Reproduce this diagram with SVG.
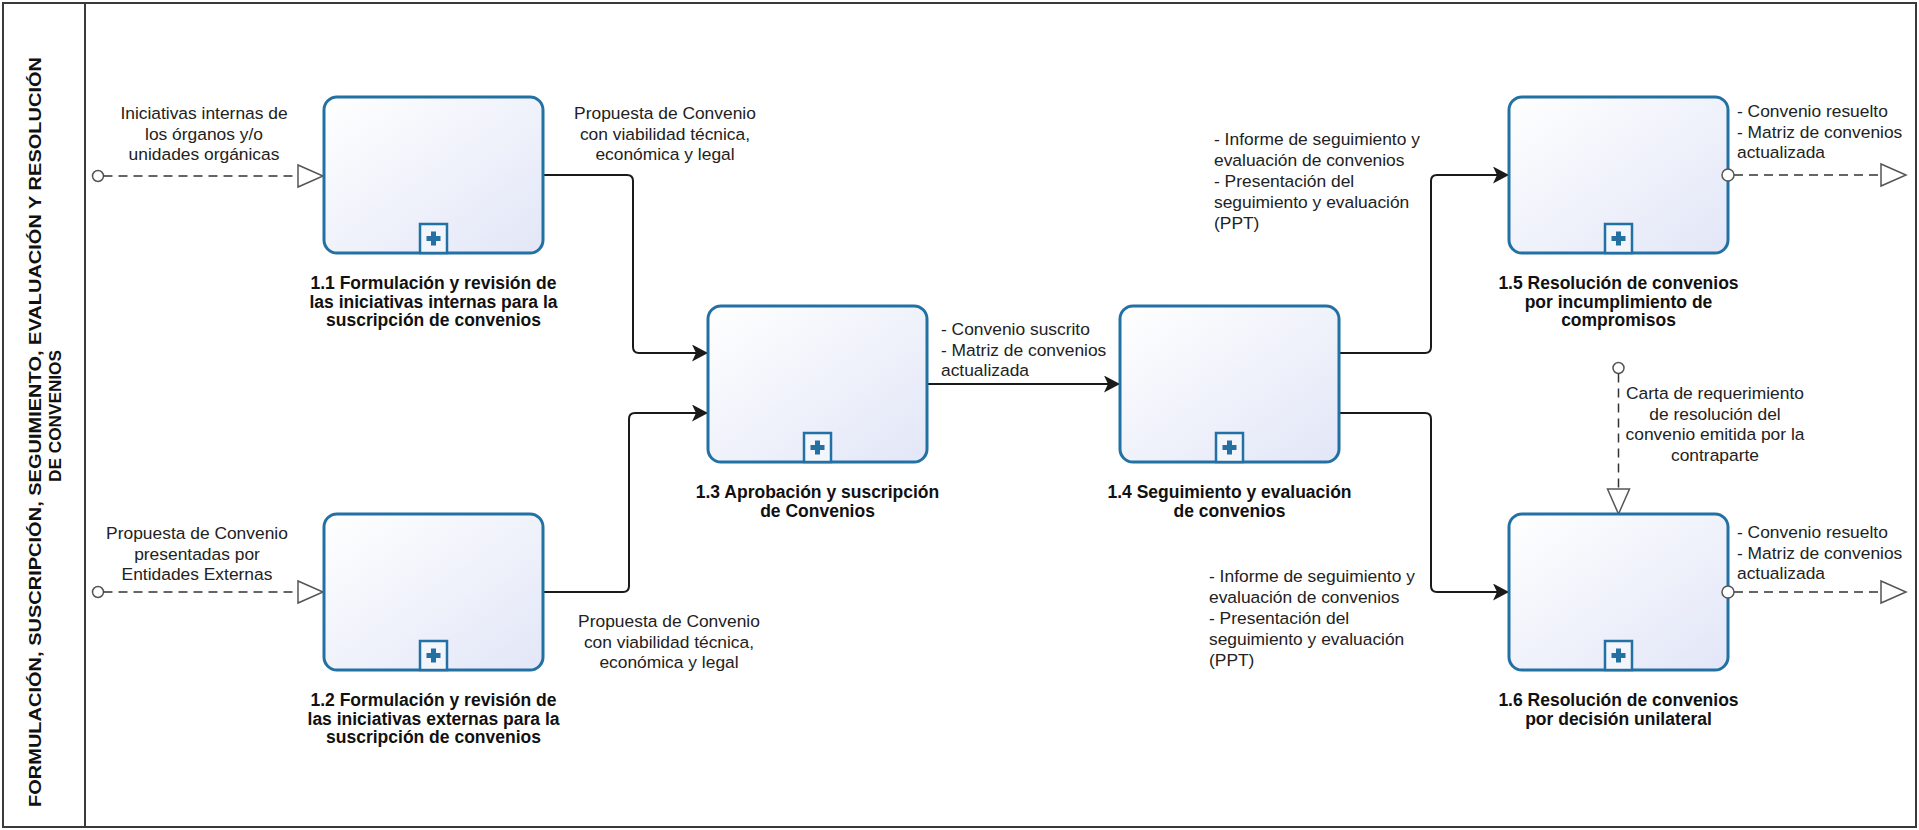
<svg xmlns="http://www.w3.org/2000/svg" width="1919" height="830" viewBox="0 0 1919 830">
  <style>
    .frame{fill:#fff;stroke:#3a3a3a;stroke-width:2}
    .task{fill:url(#taskFill);stroke:#2371a3;stroke-width:3}
    .sub{fill:#f3f5fc;stroke:#2371a3;stroke-width:2.5}
    .plus{fill:#2371a3}
    .seq{fill:none;stroke:#1a1a1a;stroke-width:2;marker-end:url(#arrow)}
    .msg{fill:none;stroke:#333;stroke-width:1.5;stroke-dasharray:9 6}
    .src{fill:#fff;stroke:#555;stroke-width:1.5}
    .tri{fill:#fff;stroke:#555;stroke-width:1.5}
    .lbl{font-family:"Liberation Sans",Arial,sans-serif;font-size:17.4px;fill:#222}
    .name{font-family:"Liberation Sans",Arial,sans-serif;font-size:17.5px;font-weight:bold;fill:#111;text-anchor:middle}
    .title{font-family:"Liberation Sans",Arial,sans-serif;font-size:17px;font-weight:bold;fill:#111;text-anchor:middle}
    .mid{text-anchor:middle}
  </style>
  <defs>
    <linearGradient id="taskFill" x1="0" y1="0" x2="1" y2="1">
      <stop offset="0" stop-color="#ffffff"/>
      <stop offset="1" stop-color="#e2e6f7"/>
    </linearGradient>
    <marker id="arrow" markerUnits="userSpaceOnUse" markerWidth="17" markerHeight="18" refX="16" refY="8.5" orient="auto">
      <path d="M0,0 L16,8.5 L0,17 L4,8.5 z" fill="#1a1a1a"/>
    </marker>
    <!-- collapsed sub-process: rounded body plus the [+] marker -->
    <g id="subprocess">
      <rect class="task" x="0" y="0" width="219" height="156" rx="13"/>
      <rect class="sub" x="96" y="127" width="27" height="29"/>
      <rect class="plus" x="102.5" y="139" width="14" height="5"/>
      <rect class="plus" x="107" y="134.5" width="5" height="14"/>
    </g>
  </defs>

  <!-- pool frame and lane header -->
  <g id="pool">
    <rect class="frame" x="3" y="3" width="1913" height="824"/>
    <line x1="85" y1="3" x2="85" y2="827" stroke="#3a3a3a" stroke-width="2"/>
    <text class="title" transform="translate(41,432) rotate(-90)" textLength="750" lengthAdjust="spacingAndGlyphs">FORMULACIÓN, SUSCRIPCIÓN, SEGUIMIENTO, EVALUACIÓN Y RESOLUCIÓN</text>
    <text class="title" transform="translate(61,416) rotate(-90)" textLength="132" lengthAdjust="spacingAndGlyphs">DE CONVENIOS</text>
  </g>

  <!-- sequence and message flows -->
  <g id="connectors">
    <path class="seq" d="M543,175 H627 Q633,175 633,181 V347 Q633,353 639,353 H708"/>
    <path class="seq" d="M543,592 H623 Q629,592 629,586 V419 Q629,413 635,413 H708"/>
    <path class="seq" d="M927,384 H1120"/>
    <path class="seq" d="M1339,353 H1425 Q1431,353 1431,347 V181 Q1431,175 1437,175 H1509"/>
    <path class="seq" d="M1339,413 H1425 Q1431,413 1431,419 V586 Q1431,592 1437,592 H1509"/>

    <circle class="src" cx="98" cy="176" r="5.5"/>
    <path class="msg" d="M103.5,176 H298"/>
    <path class="tri" d="M298,165 L323,176 L298,187 z"/>

    <circle class="src" cx="98" cy="592" r="5.5"/>
    <path class="msg" d="M103.5,592 H298"/>
    <path class="tri" d="M298,581 L323,592 L298,603 z"/>

    <path class="msg" d="M1734,175 H1881"/>
    <path class="tri" d="M1881,164 L1906,175 L1881,186 z"/>

    <path class="msg" d="M1734,592 H1881"/>
    <path class="tri" d="M1881,581 L1906,592 L1881,603 z"/>

    <circle class="src" cx="1618.5" cy="368" r="5.5"/>
    <path class="msg" d="M1618.5,373.5 V489"/>
    <path class="tri" d="M1607.5,489 L1618.5,514 L1629.5,489 z"/>

    <!-- flow labels -->
    <text class="lbl mid"><tspan x="204" y="119">Iniciativas internas de</tspan><tspan x="204" y="139.5">los órganos y/o</tspan><tspan x="204" y="160">unidades orgánicas</tspan></text>
    <text class="lbl mid"><tspan x="197" y="539">Propuesta de Convenio</tspan><tspan x="197" y="559.5">presentadas por</tspan><tspan x="197" y="580">Entidades Externas</tspan></text>
    <text class="lbl mid"><tspan x="665" y="119">Propuesta de Convenio</tspan><tspan x="665" y="139.5">con viabilidad técnica,</tspan><tspan x="665" y="160">económica y legal</tspan></text>
    <text class="lbl mid"><tspan x="669" y="627">Propuesta de Convenio</tspan><tspan x="669" y="647.5">con viabilidad técnica,</tspan><tspan x="669" y="668">económica y legal</tspan></text>
    <text class="lbl"><tspan x="941" y="335">- Convenio suscrito</tspan><tspan x="941" y="355.5">- Matriz de convenios</tspan><tspan x="941" y="376">actualizada</tspan></text>
    <text class="lbl"><tspan x="1214" y="145">- Informe de seguimiento y</tspan><tspan x="1214" y="166">evaluación de convenios</tspan><tspan x="1214" y="187">- Presentación del</tspan><tspan x="1214" y="208">seguimiento y evaluación</tspan><tspan x="1214" y="229">(PPT)</tspan></text>
    <text class="lbl"><tspan x="1209" y="582">- Informe de seguimiento y</tspan><tspan x="1209" y="603">evaluación de convenios</tspan><tspan x="1209" y="624">- Presentación del</tspan><tspan x="1209" y="645">seguimiento y evaluación</tspan><tspan x="1209" y="666">(PPT)</tspan></text>
    <text class="lbl"><tspan x="1737" y="117">- Convenio resuelto</tspan><tspan x="1737" y="137.5">- Matriz de convenios</tspan><tspan x="1737" y="158">actualizada</tspan></text>
    <text class="lbl"><tspan x="1737" y="538">- Convenio resuelto</tspan><tspan x="1737" y="558.5">- Matriz de convenios</tspan><tspan x="1737" y="579">actualizada</tspan></text>
    <text class="lbl mid"><tspan x="1715" y="399">Carta de requerimiento</tspan><tspan x="1715" y="419.5">de resolución del</tspan><tspan x="1715" y="440">convenio emitida por la</tspan><tspan x="1715" y="460.5">contraparte</tspan></text>
  </g>

  <!-- sub-process nodes -->
  <g id="task-1-1">
    <use href="#subprocess" x="324" y="97"/>
    <text class="name"><tspan x="433.5" y="289">1.1 Formulación y revisión de</tspan><tspan x="433.5" y="307.5">las iniciativas internas para la</tspan><tspan x="433.5" y="326">suscripción de convenios</tspan></text>
  </g>
  <g id="task-1-2">
    <use href="#subprocess" x="324" y="514"/>
    <text class="name"><tspan x="433.5" y="706">1.2 Formulación y revisión de</tspan><tspan x="433.5" y="724.5">las iniciativas externas para la</tspan><tspan x="433.5" y="743">suscripción de convenios</tspan></text>
  </g>
  <g id="task-1-3">
    <use href="#subprocess" x="708" y="306"/>
    <text class="name"><tspan x="817.5" y="498">1.3 Aprobación y suscripción</tspan><tspan x="817.5" y="516.5">de Convenios</tspan></text>
  </g>
  <g id="task-1-4">
    <use href="#subprocess" x="1120" y="306"/>
    <text class="name"><tspan x="1229.5" y="498">1.4 Seguimiento y evaluación</tspan><tspan x="1229.5" y="516.5">de convenios</tspan></text>
  </g>
  <g id="task-1-5">
    <use href="#subprocess" x="1509" y="97"/>
    <circle class="src" cx="1728" cy="175" r="6"/>
    <text class="name"><tspan x="1618.5" y="289">1.5 Resolución de convenios</tspan><tspan x="1618.5" y="307.5">por incumplimiento de</tspan><tspan x="1618.5" y="326">compromisos</tspan></text>
  </g>
  <g id="task-1-6">
    <use href="#subprocess" x="1509" y="514"/>
    <circle class="src" cx="1728" cy="592" r="6"/>
    <text class="name"><tspan x="1618.5" y="706">1.6 Resolución de convenios</tspan><tspan x="1618.5" y="724.5">por decisión unilateral</tspan></text>
  </g>
</svg>
